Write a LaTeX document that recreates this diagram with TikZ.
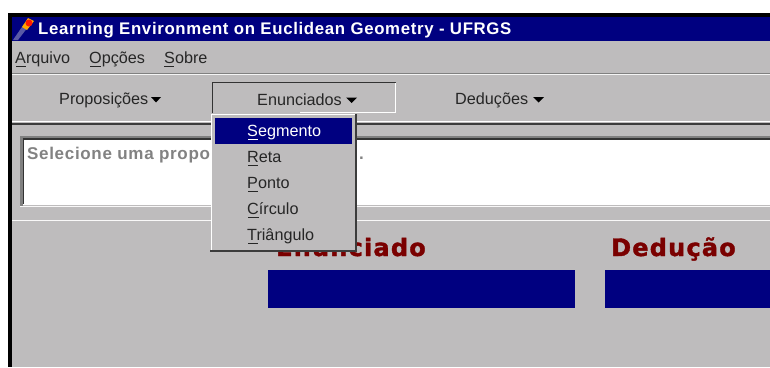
\documentclass[tikz,border=0pt]{standalone}
\usepackage{fontspec}
\setmainfont{Liberation Sans}
\newfontfamily\headfont[LetterSpace=5,FakeBold=1.5]{DejaVu Sans Bold}
\newfontfamily\boldui[LetterSpace=4]{Liberation Sans Bold}
\definecolor{ui}{RGB}{190,188,189}
\definecolor{navy}{RGB}{0,0,128}
\definecolor{hd}{RGB}{122,0,0}
\definecolor{dk}{RGB}{60,60,60}
\definecolor{md}{RGB}{128,128,128}
\definecolor{ltxt}{RGB}{130,130,130}
\tikzset{
 x=1pt,y=-1pt,
 lab/.style={inner sep=0,anchor=base west,text=black!85,font=\fontsize{16.2}{18}\selectfont},
 menuitem/.style={lab},
 heading/.style={inner sep=0,anchor=base west,text=hd,font=\fontsize{24}{26}\headfont},
 tri/.style={fill=black,draw=none},
 bar/.style={fill=navy,draw=none}
}
\newcommand{\ul}[3]{\draw[black!85,line width=1pt] (#1,#3) -- (#2,#3);}
\begin{document}
\begin{tikzpicture}
\useasboundingbox (0,0) rectangle (770,367);
\fill[white] (0,0) rectangle (770,367);
% window
\fill[black] (8,13) rectangle (770,367);
\fill[ui] (12,17) rectangle (770,367);
\fill[navy] (12,17) rectangle (770,41);
% title icon
\fill[gray!70!blue] (13,40) -- (24,24) -- (28,27) -- (18,40) -- cycle;
\fill[orange!70!yellow] (22,27) -- (28,18) -- (34,21) -- (27,30) -- cycle;
\fill[red!80!orange] (29,23) circle (3.5);
\node[inner sep=0,anchor=base west,text=white,font=\fontsize{16.8}{18}\boldui] (title) at (38,34) {Learning Environment on Euclidean Geometry - UFRGS};
% menu bar
\node[lab] (marq) at (15,63) {Arquivo};
\node[lab] (mopc) at (89,63) {Opções};
\node[lab] (msob) at (164,63) {Sobre};
\ul{16}{26}{66}\ul{90}{101}{66}\ul{164}{174}{66}
\draw[md,line width=1pt] (12,73) -- (770,73);
\draw[white!85!ui,line width=.7pt] (12,74.2) -- (770,74.2);
% toolbar
\node[lab] (prop) at (59,104) {Proposições};
\fill[tri] (151,97) -- (161,97) -- (156,102.5) -- cycle;
\draw[black!80,line width=1pt] (212.5,113) -- (212.5,82.5) -- (395.5,82.5);
\draw[white,line width=1pt] (395.5,82.5) -- (395.5,112.5) -- (300,112.5);
\node[lab] (enun) at (257,105) {Enunciados};
\fill[tri] (346,97.5) -- (357,97.5) -- (351.5,103) -- cycle;
\node[lab] (dedu) at (455,104) {Deduções};
\fill[tri] (533,97) -- (544,97) -- (538.5,102.5) -- cycle;
\draw[white,line width=1.2pt] (12,121.5) -- (770,121.5);
\draw[dk,line width=1.6pt] (12,124) -- (770,124);
% text box
\fill[white] (22,140) rectangle (770,205);
\fill[md] (20,136) rectangle (770,138);
\fill[black!80] (23,138) rectangle (770,140);
\fill[md] (20,136) rectangle (23,206);
\draw[black!80,line width=1pt] (23.5,138) -- (23.5,204);
\draw[white!90!ui,line width=1.2pt] (20,206.5) -- (770,206.5);
\node[inner sep=0,anchor=base west,text=ltxt,font=\fontsize{17}{18}\boldui] (sel) at (27,159.5) {Selecione uma propo};
\node[inner sep=0,anchor=base west,text=ltxt,font=\fontsize{17}{18}\boldui] (dot) at (359,159.5) {.};
\draw[white!90!ui,line width=1.4pt] (12,220.5) -- (770,220.5);
% headings and bars
\node[heading] (henun) at (276,256) {Enunciado};
\node[heading] (hded) at (611,256) {Dedução};
\fill[bar] (268,270) rectangle (575,308);
\fill[bar] (605,270) rectangle (770,308);
% dropdown
\fill[ui] (211,114) rectangle (356,251);
\draw[white,line width=1pt] (211.5,251) -- (211.5,114.5) -- (355,114.5);
\draw[dk,line width=1.5pt] (356,113.5) -- (356,251) -- (210,251);
\fill[navy] (215,118) rectangle (352,144);
\node[lab,text=white] (m1) at (247,136) {Segmento};
\draw[white,line width=1pt] (248,139.5) -- (258,139.5);
\node[lab] (m2) at (247,162) {Reta};
\ul{248}{258}{165.5}
\node[lab] (m3) at (247,188) {Ponto};
\ul{248}{258}{191.5}
\node[lab] (m4) at (247,214) {Círculo};
\ul{248}{259}{217.5}
\node[lab] (m5) at (247,240) {Triângulo};
\ul{248}{258}{243.5}
\end{tikzpicture}
\end{document}
